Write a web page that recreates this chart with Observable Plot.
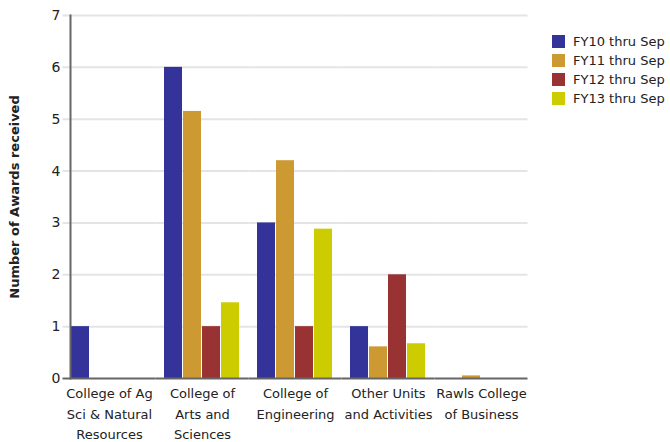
<!DOCTYPE html>
<html>
<head>
<meta charset="utf-8">
<script src="https://cdn.jsdelivr.net/npm/d3@7"></script>
<script src="https://cdn.jsdelivr.net/npm/@observablehq/plot@0.6"></script>
<style>
  html, body { margin: 0; padding: 0; background: #fff; }
  #wrap { position: relative; width: 670px; height: 442px; font-family: "DejaVu Sans", sans-serif; }
  #legend { position: absolute; left: 552px; top: 32px; font-size: 13px; color: #222; }
  .row { display: flex; align-items: center; height: 19px; white-space: nowrap; }
  .sw { width: 13px; height: 13px; margin-right: 8px; flex: none; }
  svg [aria-label="y-axis label"] { font-weight: bold; font-size: 13px; }
</style>
</head>
<body>
<div id="wrap"></div>
<script>
const categories = [
  "College of Ag Sci & Natural Resources",
  "College of Arts and Sciences",
  "College of Engineering",
  "Other Units and Activities",
  "Rawls College of Business"
];
const tickLabels = [
  "College of Ag\nSci & Natural\nResources",
  "College of\nArts and\nSciences",
  "College of\nEngineering",
  "Other Units\nand Activities",
  "Rawls College\nof Business"
];
const series = ["FY10 thru Sep", "FY11 thru Sep", "FY12 thru Sep", "FY13 thru Sep"];
const colors = ["#333399", "#cc9933", "#993333", "#cccc00"];
const fy10 = [1, 6, 3, 1, 0];
const fy11 = [0, 5.15, 4.2, 0.61, 0.05];
const fy12 = [0, 1, 1, 2, 0];
const fy13 = [0, 1.46, 2.88, 0.67, 0];
const yTicks = [0, 1, 2, 3, 4, 5, 6, 7];

const values = [fy10, fy11, fy12, fy13];
const data = [];
categories.forEach((c, i) => {
  series.forEach((s, j) => data.push({category: c, series: s, value: values[j][i]}));
});
const labelOf = new Map(categories.map((c, i) => [c, tickLabels[i]]));

const gapHalf = 7.5;
const chart = Plot.plot({
  width: 670,
  height: 442,
  marginLeft: 63,
  marginRight: 142,
  marginTop: 15,
  marginBottom: 64,
  style: {fontFamily: '"DejaVu Sans", sans-serif', fontSize: "13px", color: "#222", background: "#fff"},
  fx: {domain: categories, paddingInner: 0.16, paddingOuter: 0.08},
  x: {domain: series, padding: 0.04, axis: null},
  y: {domain: [0, 7]},
  color: {domain: series, range: colors},
  marks: [
    Plot.ruleY(yTicks.slice(1), {stroke: "#e4e4e4", strokeWidth: 2, insetLeft: -gapHalf, insetRight: -gapHalf}),
    Plot.barY(data, {fx: "category", x: "series", y: "value", fill: "series"}),
    Plot.ruleY([0], {stroke: "#666", strokeWidth: 2, insetLeft: -gapHalf, insetRight: -gapHalf}),
    Plot.frame({anchor: "left", stroke: "#666", strokeWidth: 2, facet: "super"}),
    Plot.axisY({ticks: yTicks, tickFormat: d3.format("d"), tickSize: 0, tickPadding: 10, label: "Number of Awards received", labelAnchor: "center", labelArrow: "none", labelOffset: 61, fontSize: 14}),
    Plot.axisFx({anchor: "bottom", tickSize: 0, tickPadding: 5, label: null, tickFormat: d => labelOf.get(d), lineHeight: 1.58, fontSize: 13})
  ]
});
const wrap = document.getElementById("wrap");
wrap.appendChild(chart);

const legend = document.createElement("div");
legend.id = "legend";
series.forEach((s, j) => {
  const row = document.createElement("div");
  row.className = "row";
  const sw = document.createElement("div");
  sw.className = "sw";
  sw.style.background = colors[j];
  const t = document.createElement("span");
  t.textContent = s;
  row.appendChild(sw);
  row.appendChild(t);
  legend.appendChild(row);
});
wrap.appendChild(legend);
</script>
</body>
</html>
